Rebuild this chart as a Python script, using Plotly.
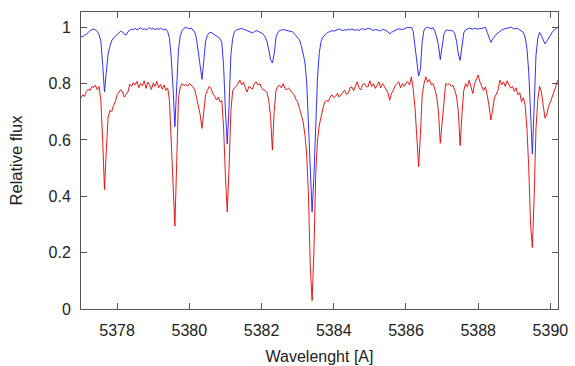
import numpy as np
import plotly.graph_objects as go

# wavelength grid [A], 0.05 A sampling from 5377.00 to 5390.20
wavelength = np.round(np.arange(5377.0, 5390.2001, 0.05), 2)

# blue spectrum (upper), one row per Angstrom
flux_blue = [
    0.968, 0.966, 0.972, 0.975, 0.981, 0.988, 0.991, 0.994, 0.990, 0.985,
    0.974, 0.950, 0.868, 0.771, 0.840, 0.905, 0.932, 0.952, 0.962, 0.968,
    0.974, 0.978, 0.986, 0.983, 0.975, 0.972, 0.984, 0.989, 0.993, 0.991,
    0.996, 0.990, 0.994, 0.998, 0.992, 0.995, 0.990, 0.996, 0.999, 0.993,
    0.997, 0.991, 0.995, 0.992, 0.997, 0.993, 0.990, 0.994, 0.985, 0.960,
    0.890, 0.780, 0.647, 0.790, 0.920, 0.970, 0.988, 0.996, 1.000, 0.997,
    0.994, 0.997, 0.990, 0.983, 0.958, 0.910, 0.860, 0.815, 0.880, 0.950,
    0.972, 0.980, 0.982, 0.978, 0.975, 0.970, 0.965, 0.960, 0.945, 0.860,
    0.700, 0.585, 0.720, 0.900, 0.960, 0.985, 0.990, 0.992, 0.994, 0.996,
    0.993, 0.990, 0.988, 0.986, 0.984, 0.980, 0.984, 0.988, 0.986, 0.982,
    0.978, 0.975, 0.965, 0.950, 0.920, 0.885, 0.873, 0.905, 0.965, 0.980,
    0.988, 0.990, 0.992, 0.990, 0.988, 0.988, 0.986, 0.984, 0.978, 0.970,
    0.965, 0.955, 0.935, 0.910, 0.877, 0.806, 0.640, 0.450, 0.345, 0.470,
    0.660, 0.820, 0.910, 0.950, 0.965, 0.972, 0.978, 0.982, 0.985, 0.988,
    0.986, 0.989, 0.991, 0.994, 0.990, 0.988, 0.991, 0.989, 0.993, 0.990,
    0.994, 0.992, 0.989, 0.992, 0.988, 0.993, 0.995, 0.991, 0.994, 0.996,
    0.995, 0.990, 0.988, 0.992, 0.991, 0.988, 0.987, 0.993, 0.991, 0.988,
    0.984, 0.976, 0.982, 0.986, 0.988, 0.992, 0.994, 0.993, 0.992, 0.994,
    0.997, 1.000, 0.998, 1.000, 0.985, 0.935, 0.870, 0.827, 0.850, 0.950,
    0.990, 0.998, 1.000, 0.996, 0.994, 0.998, 0.985, 0.965, 0.935, 0.885,
    0.930, 0.975, 0.988, 0.990, 0.988, 0.989, 0.986, 0.978, 0.950, 0.905,
    0.882, 0.935, 0.980, 0.990, 0.994, 0.997, 0.995, 0.993, 0.996, 0.995,
    0.993, 0.996, 0.995, 0.998, 1.000, 0.982, 0.965, 0.946, 0.958, 0.968,
    0.975, 0.980, 0.986, 0.990, 0.993, 0.995, 0.996, 0.998, 1.000, 0.997,
    0.994, 0.996, 0.995, 0.990, 0.986, 0.982, 0.965, 0.924, 0.840, 0.700,
    0.550, 0.720, 0.900, 0.960, 0.982, 0.970, 0.955, 0.941, 0.950, 0.962,
    0.970, 0.982, 0.990, 0.996, 1.000,
]

# red spectrum (lower), one row per Angstrom
flux_red = [
    0.748, 0.760, 0.755, 0.772, 0.780, 0.775, 0.790, 0.786, 0.794, 0.778,
    0.790, 0.740, 0.600, 0.424, 0.560, 0.680, 0.705, 0.700, 0.722, 0.735,
    0.760, 0.768, 0.778, 0.770, 0.752, 0.762, 0.770, 0.798, 0.790, 0.803,
    0.795, 0.808, 0.785, 0.800, 0.792, 0.810, 0.783, 0.805, 0.795, 0.779,
    0.802, 0.790, 0.808, 0.785, 0.797, 0.780, 0.795, 0.776, 0.785, 0.740,
    0.600, 0.450, 0.294, 0.520, 0.750, 0.788, 0.800, 0.792, 0.798, 0.790,
    0.800, 0.795, 0.788, 0.778, 0.750, 0.718, 0.690, 0.641, 0.705, 0.760,
    0.775, 0.790, 0.783, 0.765, 0.755, 0.742, 0.752, 0.735, 0.740, 0.640,
    0.470, 0.345, 0.500, 0.700, 0.775, 0.785, 0.790, 0.800, 0.812, 0.795,
    0.805, 0.785, 0.770, 0.790, 0.786, 0.780, 0.800, 0.806, 0.795, 0.800,
    0.785, 0.777, 0.775, 0.768, 0.740, 0.680, 0.564, 0.700, 0.775, 0.790,
    0.794, 0.785, 0.800, 0.782, 0.778, 0.785, 0.775, 0.768, 0.760, 0.745,
    0.735, 0.712, 0.692, 0.665, 0.620, 0.550, 0.400, 0.150, 0.030, 0.200,
    0.480, 0.600, 0.653, 0.690, 0.712, 0.735, 0.740, 0.736, 0.752, 0.760,
    0.750, 0.755, 0.765, 0.752, 0.760, 0.770, 0.777, 0.762, 0.766, 0.785,
    0.788, 0.775, 0.790, 0.806, 0.785, 0.777, 0.797, 0.800, 0.790, 0.788,
    0.810, 0.790, 0.800, 0.783, 0.794, 0.806, 0.785, 0.800, 0.790, 0.780,
    0.768, 0.741, 0.765, 0.777, 0.792, 0.800, 0.806, 0.785, 0.800, 0.790,
    0.802, 0.806, 0.795, 0.824, 0.780, 0.715, 0.620, 0.505, 0.620, 0.760,
    0.800, 0.824, 0.805, 0.815, 0.795, 0.800, 0.780, 0.755, 0.700, 0.588,
    0.660, 0.735, 0.800, 0.795, 0.800, 0.790, 0.794, 0.776, 0.755, 0.700,
    0.580, 0.690, 0.775, 0.800, 0.788, 0.812, 0.792, 0.765, 0.800, 0.815,
    0.830, 0.805, 0.790, 0.775, 0.788, 0.760, 0.720, 0.671, 0.705, 0.750,
    0.762, 0.778, 0.812, 0.795, 0.806, 0.790, 0.810, 0.798, 0.784, 0.790,
    0.772, 0.785, 0.760, 0.768, 0.735, 0.750, 0.724, 0.640, 0.500, 0.300,
    0.218, 0.400, 0.640, 0.740, 0.790, 0.770, 0.725, 0.677, 0.690, 0.720,
    0.735, 0.752, 0.770, 0.790, 0.812,
]

x_ticks = [5378, 5380, 5382, 5384, 5386, 5388, 5390]
y_ticks = [0, 0.2, 0.4, 0.6, 0.8, 1.0]
x_title = "Wavelenght [A]"
y_title = "Relative flux"

FONT = "Liberation Sans, Arial, Helvetica, sans-serif"
AX = "#555555"

fig = go.Figure()
fig.add_trace(go.Scatter(x=wavelength, y=flux_blue, mode="lines",
                         line=dict(color="#1a1aff", width=0.9), showlegend=False))
fig.add_trace(go.Scatter(x=wavelength, y=flux_red, mode="lines",
                         line=dict(color="#e60000", width=0.9), showlegend=False))

fig.update_layout(
    width=575, height=366,
    margin=dict(l=81, r=17, t=12, b=57),
    paper_bgcolor="white", plot_bgcolor="white",
    font=dict(family=FONT, size=16, color="#222222"),
)
fig.update_xaxes(
    range=[5377, 5390.21], tickvals=x_ticks, ticks="inside", ticklen=6,
    tickcolor=AX, showline=True, linecolor=AX, linewidth=1, mirror="ticks",
    showgrid=False, zeroline=False, ticklabelstandoff=7, automargin=False,
    title=dict(text=x_title, standoff=12, font=dict(size=16)),
)
fig.update_yaxes(
    range=[0, 1.054], tickvals=y_ticks, ticks="inside", ticklen=6,
    tickcolor=AX, showline=True, linecolor=AX, linewidth=1, mirror="ticks",
    showgrid=False, zeroline=False, ticklabelstandoff=6, automargin=False,
    title=dict(text=y_title, standoff=21, font=dict(size=16.5)),
)
fig.write_html("out.html", config={"displayModeBar": False},
               post_script="document.body.style.margin='0';")
